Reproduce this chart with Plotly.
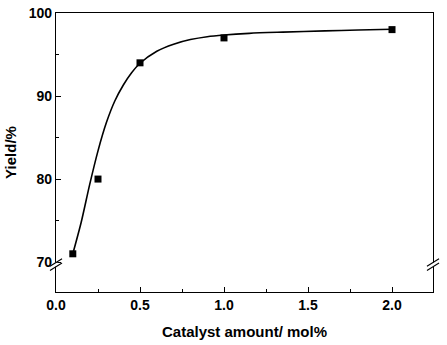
import plotly.graph_objects as go

# measured points
catalyst = [0.1, 0.25, 0.5, 1.0, 2.0]
yield_pct = [71, 80, 94, 97, 98]

# fitted curve
curve_x = [0.1, 0.15, 0.20, 0.25, 0.30, 0.35, 0.40, 0.45, 0.50, 0.60, 0.70, 0.80, 0.90, 1.0, 1.15, 1.35, 1.6, 1.8, 2.0]
curve_y = [71.0, 74.8, 79.3, 83.4, 86.8, 89.4, 91.3, 92.8, 93.95, 95.4, 96.25, 96.8, 97.15, 97.35, 97.55, 97.7, 97.85, 97.95, 98.05]

x_ticks = [0.0, 0.5, 1.0, 1.5, 2.0]
x_tick_text = ["0.0", "0.5", "1.0", "1.5", "2.0"]
y_ticks = [70, 80, 90, 100]
y_tick_text = ["70", "80", "90", "100"]

font = "Liberation Sans, Arial, sans-serif"

fig = go.Figure()
fig.add_trace(go.Scatter(x=curve_x, y=curve_y, mode="lines",
                         line=dict(color="black", width=1.6, shape="spline", smoothing=0.8),
                         hoverinfo="skip", showlegend=False))
fig.add_trace(go.Scatter(x=catalyst, y=yield_pct, mode="markers",
                         marker=dict(symbol="square", size=7, color="black"),
                         showlegend=False))

axis_common = dict(showline=True, linecolor="black", linewidth=1.2, mirror=True,
                   ticks="inside", ticklen=5, tickwidth=1, tickcolor="black",
                   showgrid=False, zeroline=False, automargin=False,
                   tickfont=dict(family=font, size=14, color="black", weight="bold"))

fig.update_xaxes(range=[0, 2.244], tickvals=x_ticks, ticktext=x_tick_text,
                 minor=dict(dtick=0.25, ticks="inside", ticklen=3, tickcolor="black"),
                 title=dict(text="<b>Catalyst amount/ mol%</b>",
                            font=dict(family=font, size=15, color="black"), standoff=14),
                 **axis_common)
fig.update_yaxes(range=[66.4, 100], tickvals=y_ticks, ticktext=y_tick_text,
                 minor=dict(dtick=5, ticks="inside", ticklen=3, tickcolor="black"),
                 title=dict(text="<b>Yield/%</b>",
                            font=dict(family=font, size=15, color="black"), standoff=8),
                 **axis_common)

# axis break marks on left and right axes
shapes = []
for xp in (0.0, 1.0):
    shapes.append(dict(type="rect", xref="paper", yref="y", x0=xp - 0.004, x1=xp + 0.004,
                       y0=69.45, y1=69.95, fillcolor="white", line=dict(width=0), layer="above"))
    for off in (0.0, 0.5):
        shapes.append(dict(type="line", xref="paper", yref="y", x0=xp - 0.016, x1=xp + 0.016,
                           y0=69.0 + off, y1=69.9 + off, line=dict(color="black", width=1.1),
                           layer="above"))

fig.update_layout(width=447, height=345, margin=dict(l=56, r=14, t=13, b=53),
                  plot_bgcolor="white", paper_bgcolor="white", shapes=shapes,
                  font=dict(family=font, color="black"))

fig.write_html("out.html", config={"displayModeBar": False},
               post_script="document.body.style.margin='0';document.body.style.overflow='hidden';")
